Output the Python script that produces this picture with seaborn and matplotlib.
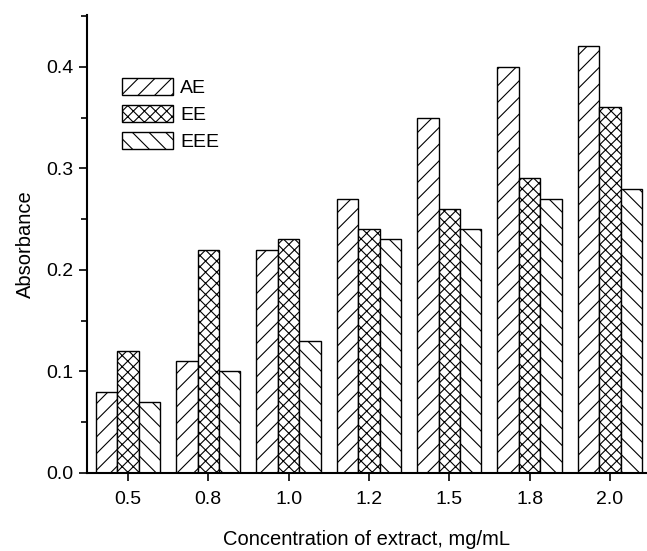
import matplotlib
matplotlib.use("Agg")
import matplotlib.pyplot as plt
import seaborn as sns
import pandas as pd
from matplotlib.patches import Patch
from matplotlib.ticker import MultipleLocator

concentrations = ["0.5", "0.8", "1.0", "1.2", "1.5", "1.8", "2.0"]
ae = [0.08, 0.11, 0.22, 0.27, 0.35, 0.40, 0.42]
ee = [0.12, 0.22, 0.23, 0.24, 0.26, 0.29, 0.36]
eee = [0.07, 0.10, 0.13, 0.23, 0.24, 0.27, 0.28]
series_names = ["AE", "EE", "EEE"]
hatches = ["//", "xxx", "\\\\"]

df = pd.DataFrame({
    "conc": concentrations * 3,
    "value": ae + ee + eee,
    "series": [s for s in series_names for _ in concentrations],
})

sns.set_style("ticks")
plt.rcParams["font.family"] = ["Liberation Sans", "DejaVu Sans"]
plt.rcParams["hatch.color"] = "#7f7f7f"
plt.rcParams["hatch.linewidth"] = 0.8
plt.rcParams["text.color"] = "black"
plt.rcParams["axes.labelcolor"] = "black"
plt.rcParams["xtick.color"] = "black"
plt.rcParams["ytick.color"] = "black"

fig = plt.figure(figsize=(6.47, 5.51), dpi=100)
ax = fig.add_axes([0.1345, 0.1416, 0.864, 0.8312])

sns.barplot(data=df, x="conc", y="value", hue="series", order=concentrations,
            hue_order=series_names, width=0.8,
            palette=["white"] * 3, edgecolor="black", linewidth=1.0,
            legend=False, ax=ax, errorbar=None)

for cont, h in zip(ax.containers, hatches):
    for bar in cont:
        bar.set_hatch(h)
        bar.set_facecolor("white")
        bar.set_edgecolor("black")

ax.set_xlim(-0.51, 6.45)
ax.set_ylim(0, 0.451)
ax.yaxis.set_major_locator(MultipleLocator(0.1))
ax.yaxis.set_minor_locator(MultipleLocator(0.05))
ax.yaxis.set_major_formatter(matplotlib.ticker.FormatStrFormatter("%.1f"))
ax.tick_params(axis="both", which="major", direction="out", length=6, width=1.2,
               labelsize=14, colors="black")
ax.tick_params(axis="y", which="minor", direction="out", length=4, width=1.2,
               colors="black")
ax.tick_params(axis="x", pad=7)
ax.tick_params(axis="y", pad=4)
for s in ["top", "right"]:
    ax.spines[s].set_visible(False)
for s in ["left", "bottom"]:
    ax.spines[s].set_linewidth(1.5)
    ax.spines[s].set_color("black")

ax.set_xlabel("Concentration of extract, mg/mL", fontsize=14.5, labelpad=16,
              color="black")
ax.set_ylabel("Absorbance", fontsize=14.5, labelpad=8, color="black")

handles = [Patch(facecolor="white", edgecolor="black", hatch=h, linewidth=1.0)
           for h in hatches]
leg = ax.legend(handles, series_names, loc="upper left",
                bbox_to_anchor=(0.038, 0.892),
                frameon=False, fontsize=14, handlelength=2.63, handleheight=1.0,
                handletextpad=0.36, labelspacing=0.39, borderpad=0.2)
for t in leg.get_texts():
    t.set_color("black")

fig.savefig("out.png", dpi=100)
